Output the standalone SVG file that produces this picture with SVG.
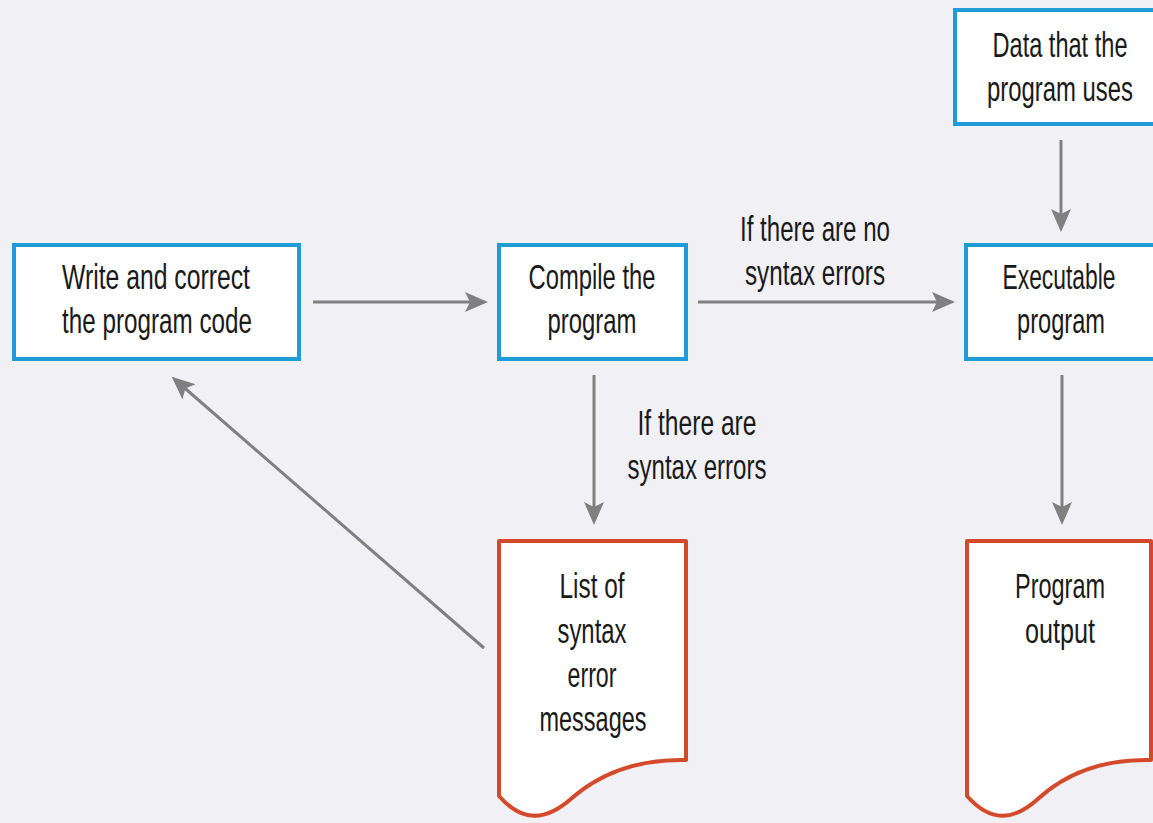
<svg xmlns="http://www.w3.org/2000/svg" width="1153" height="823" viewBox="0 0 1153 823">
  <style>
    .proc { fill: #ffffff; stroke: #1f9bd5; stroke-width: 4; }
    .doc { fill: #ffffff; stroke: #d5492b; stroke-width: 4; stroke-linejoin: round; }
    .lbl { font-family: "Liberation Sans", Arial, sans-serif; font-size: 35px; fill: #1a1a1a; }
    .conn { stroke: #808080; stroke-width: 3; fill: none; marker-end: url(#head); }
  </style>
  <defs>
    <marker id="head" markerUnits="userSpaceOnUse" markerWidth="26" markerHeight="24" refX="12" refY="11" orient="auto" viewBox="0 0 26 24">
      <path d="M0,1 L23,11 L0,21 L5,11 Z" fill="#808080"/>
    </marker>
  </defs>

  <rect x="0" y="0" width="1153" height="823" fill="#f0f0f5"/>

  <!-- connectors -->
  <g id="connectors">
    <line class="conn" x1="313" y1="302" x2="477" y2="302"/>
    <line class="conn" x1="698" y1="302" x2="944" y2="302"/>
    <line class="conn" x1="1061" y1="140" x2="1061" y2="221"/>
    <line class="conn" x1="594" y1="375" x2="594" y2="514"/>
    <line class="conn" x1="1062" y1="375" x2="1062" y2="514"/>
    <line class="conn" x1="484" y1="648" x2="180" y2="384"/>
  </g>

  <!-- edge labels -->
  <g id="edge-labels">
    <text class="lbl" x="815" y="241" text-anchor="middle" textLength="150" lengthAdjust="spacingAndGlyphs">If there are no</text>
    <text class="lbl" x="815" y="285" text-anchor="middle" textLength="140" lengthAdjust="spacingAndGlyphs">syntax errors</text>
    <text class="lbl" x="697" y="435" text-anchor="middle" textLength="119" lengthAdjust="spacingAndGlyphs">If there are</text>
    <text class="lbl" x="697" y="479" text-anchor="middle" textLength="139" lengthAdjust="spacingAndGlyphs">syntax errors</text>
  </g>

  <g id="write">
    <rect class="proc" x="14" y="245" width="285" height="114"/>
    <text class="lbl" x="156" y="289" text-anchor="middle" textLength="188" lengthAdjust="spacingAndGlyphs">Write and correct</text>
    <text class="lbl" x="157" y="333" text-anchor="middle" textLength="190" lengthAdjust="spacingAndGlyphs">the program code</text>
  </g>

  <g id="compile">
    <rect class="proc" x="499" y="245" width="187" height="114"/>
    <text class="lbl" x="592" y="289" text-anchor="middle" textLength="127" lengthAdjust="spacingAndGlyphs">Compile the</text>
    <text class="lbl" x="592" y="333" text-anchor="middle" textLength="89" lengthAdjust="spacingAndGlyphs">program</text>
  </g>

  <g id="data">
    <rect class="proc" x="955" y="10" width="210" height="114"/>
    <text class="lbl" x="1060" y="57" text-anchor="middle" textLength="135" lengthAdjust="spacingAndGlyphs">Data that the</text>
    <text class="lbl" x="1060" y="101" text-anchor="middle" textLength="146" lengthAdjust="spacingAndGlyphs">program uses</text>
  </g>

  <g id="executable">
    <rect class="proc" x="966" y="245" width="200" height="114"/>
    <text class="lbl" x="1059" y="289" text-anchor="middle" textLength="113" lengthAdjust="spacingAndGlyphs">Executable</text>
    <text class="lbl" x="1061" y="333" text-anchor="middle" textLength="88" lengthAdjust="spacingAndGlyphs">program</text>
  </g>

  <g id="error-list">
    <path class="doc" d="M499,541 H686 V760 C640,759 602,772 572,798 C545,822 522,822 499,796 Z"/>
    <text class="lbl" x="592" y="598" text-anchor="middle" textLength="65" lengthAdjust="spacingAndGlyphs">List of</text>
    <text class="lbl" x="592" y="643" text-anchor="middle" textLength="69" lengthAdjust="spacingAndGlyphs">syntax</text>
    <text class="lbl" x="592" y="687" text-anchor="middle" textLength="49" lengthAdjust="spacingAndGlyphs">error</text>
    <text class="lbl" x="593" y="731" text-anchor="middle" textLength="107" lengthAdjust="spacingAndGlyphs">messages</text>
  </g>

  <g id="output">
    <path class="doc" d="M967,541 H1151 V760 C1106,759 1068,772 1039,798 C1013,822 990,822 967,796 Z"/>
    <text class="lbl" x="1060" y="598" text-anchor="middle" textLength="90" lengthAdjust="spacingAndGlyphs">Program</text>
    <text class="lbl" x="1060" y="643" text-anchor="middle" textLength="70" lengthAdjust="spacingAndGlyphs">output</text>
  </g>
</svg>
